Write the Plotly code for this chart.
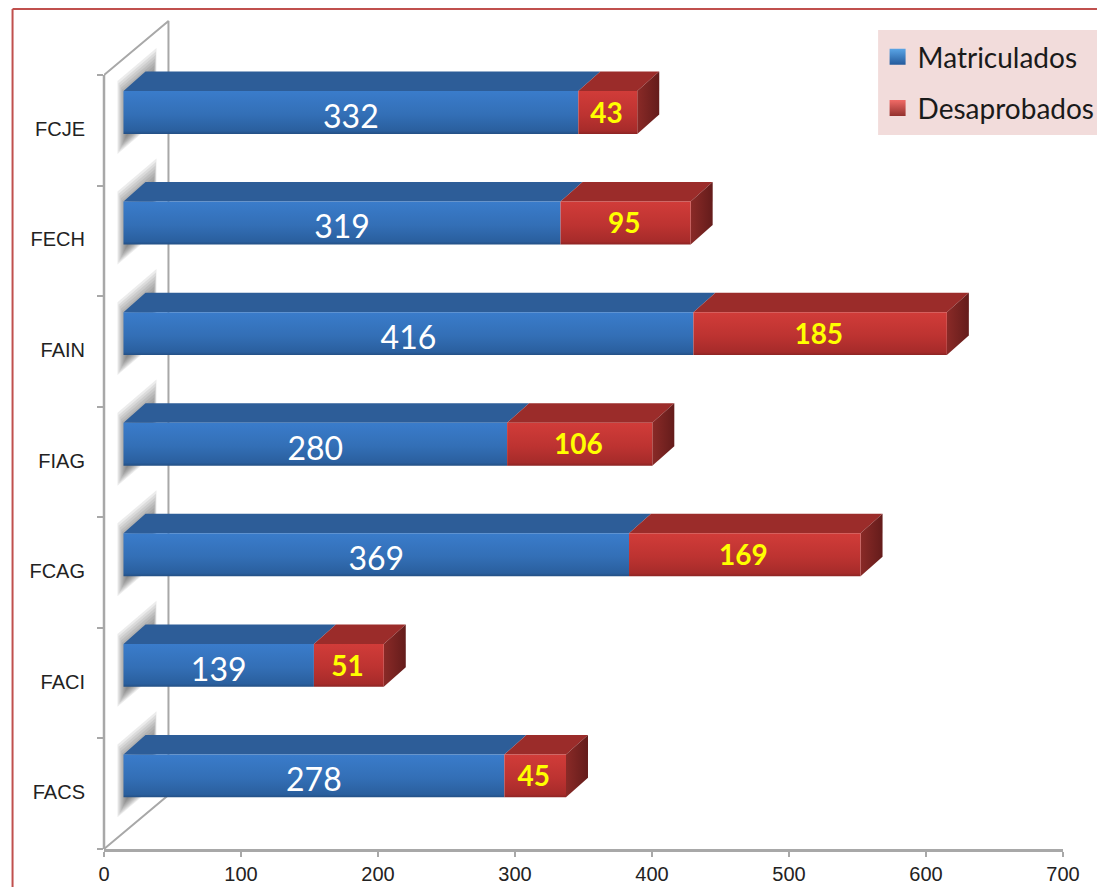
import plotly.graph_objects as go

# ---- data (bottom to top on the axis) ----
faculties = ["FACS", "FACI", "FCAG", "FIAG", "FAIN", "FECH", "FCJE"]
matriculados = [278, 139, 369, 280, 416, 319, 332]
desaprobados = [45, 51, 169, 106, 185, 95, 43]
x_ticks = [0, 100, 200, 300, 400, 500, 600, 700]

# ---- page geometry in px ----
W, H = 1097, 887
L, R, T, B = 103.5, 1063, 15, 849
AXIS_TOP = 75                 # the category axis ends here, the plot area goes higher for the 3D depth
PX_X = (R - L) / 700          # px per x unit
PX_Y = (B - AXIS_TOP) / 7     # px per category


def paper_x(px):
    return (px - L) / (R - L)


def paper_y(py):
    return 1 - (py - T) / (B - T)


# ---- pseudo-3D constants in data units ----
START = 19.5 / PX_X           # front faces start here
DEPTH_X = 22 / PX_X
DEPTH_Y = 19.5 / PX_Y
FRONT_LOW, FRONT_HIGH = -0.033, 0.355
WALL_X = 64.5 / PX_X
WALL_Y = 54 / PX_Y
GRAY = "#a8a8a8"

fig = go.Figure()


def poly(xs, ys, **kw):
    fig.add_trace(go.Scatter(
        x=xs + xs[:1], y=ys + ys[:1], mode="lines", fill="toself",
        line=dict(width=0), hoverinfo="skip", showlegend=False, **kw))


# side wall outline
fig.add_trace(go.Scatter(
    x=[0, WALL_X, WALL_X, 0],
    y=[6.5, 6.5 + WALL_Y, -0.5 + WALL_Y, -0.5],
    mode="lines", line=dict(color=GRAY, width=2),
    hoverinfo="skip", showlegend=False))

# soft shadows on the wall, nested translucent layers
LAYERS = 10
for i in range(len(faculties)):
    for k in range(LAYERS):
        inset = k * 2.2
        x0 = (13.5 + inset * 0.5) / PX_X
        x1 = (52.5 - inset * 0.2) / PX_X
        lift = (x1 - x0) * PX_X * 0.85 / PX_Y
        low = i + FRONT_LOW - (20 - inset) / PX_Y
        high = i + FRONT_HIGH + (10 - inset) / PX_Y
        poly([x0, x1, x1, x0],
             [low, low + lift, high + lift, high],
             fillcolor="rgba(80,80,80,0.11)")

# bars
for i, name in enumerate(faculties):
    m = matriculados[i]
    d = desaprobados[i]
    a, b, c = START, START + m, START + m + d
    lo, hi = i + FRONT_LOW, i + FRONT_HIGH
    # top faces
    poly([a, b, b + DEPTH_X, a + DEPTH_X], [hi, hi, hi + DEPTH_Y, hi + DEPTH_Y],
         fillcolor="#2d5d98")
    poly([b, c, c + DEPTH_X, b + DEPTH_X], [hi, hi, hi + DEPTH_Y, hi + DEPTH_Y],
         fillcolor="#9b2c2a")
    # end face
    poly([c, c + DEPTH_X, c + DEPTH_X, c], [lo, lo + DEPTH_Y, hi + DEPTH_Y, hi],
         fillcolor="#7a2422",
         fillgradient=dict(type="horizontal",
                           colorscale=[[0, "#8a2a27"], [1, "#641c1b"]]))
    # front faces
    poly([a, b, b, a], [lo, lo, hi, hi], fillcolor="#3a7cca", name="Matriculados",
         fillgradient=dict(type="vertical", colorscale=[
             [0, "#234f84"], [0.07, "#2a5f9e"], [0.45, "#336fb6"], [1, "#3a7ccb"]]))
    poly([b, c, c, b], [lo, lo, hi, hi], fillcolor="#c63634", name="Desaprobados",
         fillgradient=dict(type="vertical", colorscale=[
             [0, "#8c2423"], [0.07, "#a62b2a"], [0.45, "#bd3331"], [1, "#d13c39"]]))

# value labels
fig.add_trace(go.Scatter(
    x=[START + m / 2 for m in matriculados],
    y=[i + 0.135 - 4.5 / PX_Y for i in range(len(faculties))],
    text=[str(m) for m in matriculados], mode="text",
    textfont=dict(family="Lato", size=32, color="white"),
    hoverinfo="skip", showlegend=False))
fig.add_trace(go.Scatter(
    x=[START + m + d / 2 - 1 for m, d in zip(matriculados, desaprobados)],
    y=[i + 0.15 - 2 / PX_Y for i in range(len(faculties))],
    text=[str(d) for d in desaprobados], mode="text",
    textfont=dict(family="Lato", size=28, color="#ffff00", weight="bold"),
    hoverinfo="skip", showlegend=False))

# legend entries
for name, top, bottom in (("Matriculados", "#5aa5e6", "#245a9c"),
                          ("Desaprobados", "#f06a66", "#92302d")):
    fig.add_trace(go.Scatter(
        x=[None], y=[None], mode="markers", name=name, legendgroup=name,
        marker=dict(symbol="square", size=18, color=top,
                    gradient=dict(type="vertical", color=bottom))))

fig.update_layout(
    width=W, height=H,
    margin=dict(l=L, r=W - R, t=T, b=H - B, pad=0, autoexpand=False),
    paper_bgcolor="white", plot_bgcolor="white",
    font=dict(family="Liberation Sans", size=20, color="#222222"),
    xaxis=dict(range=[0, 700], tickmode="array", tickvals=x_ticks,
               showgrid=False, zeroline=False, showline=True,
               linecolor=GRAY, linewidth=3, ticks="outside", ticklen=5,
               tickwidth=2, tickcolor=GRAY),
    yaxis=dict(range=[-0.5, 6.5 + (AXIS_TOP - T) / PX_Y], tickmode="array",
               tickvals=[i + 1.5 / PX_Y for i in range(len(faculties))],
               ticktext=faculties,
               showgrid=False, zeroline=False, showline=False,
               ticks="outside", ticklen=14,
               tickcolor="rgba(0,0,0,0)",
               minor=dict(tickmode="array",
                          tickvals=[i - 0.5 for i in range(len(faculties) + 1)],
                          ticks="outside", ticklen=6, tickwidth=1.5,
                          tickcolor=GRAY, showgrid=False)),
    legend=dict(x=paper_x(877.5), y=paper_y(32), xanchor="left", yanchor="top",
                bgcolor="rgba(0,0,0,0)", traceorder="grouped", tracegroupgap=12,
                font=dict(family="Lato", size=28, color="#1a1a1a")),
    shapes=[
        dict(type="rect", xref="paper", yref="paper", layer="below",
             x0=paper_x(878), x1=paper_x(W), y0=paper_y(135), y1=paper_y(30),
             fillcolor="#f2dcdb", line=dict(width=0)),
        dict(type="line", xref="paper", yref="paper",
             x0=0, x1=0, y0=paper_y(B), y1=paper_y(AXIS_TOP),
             line=dict(color=GRAY, width=2.5)),
        dict(type="line", xref="paper", yref="paper",
             x0=paper_x(12), x1=paper_x(12), y0=paper_y(H), y1=paper_y(9),
             line=dict(color="#c0504d", width=2)),
        dict(type="line", xref="paper", yref="paper",
             x0=paper_x(12), x1=paper_x(W), y0=paper_y(9), y1=paper_y(9),
             line=dict(color="#c0504d", width=2)),
    ],
)

fig.write_html("out.html", config={"displayModeBar": False},
               post_script="document.body.style.margin='0';")
